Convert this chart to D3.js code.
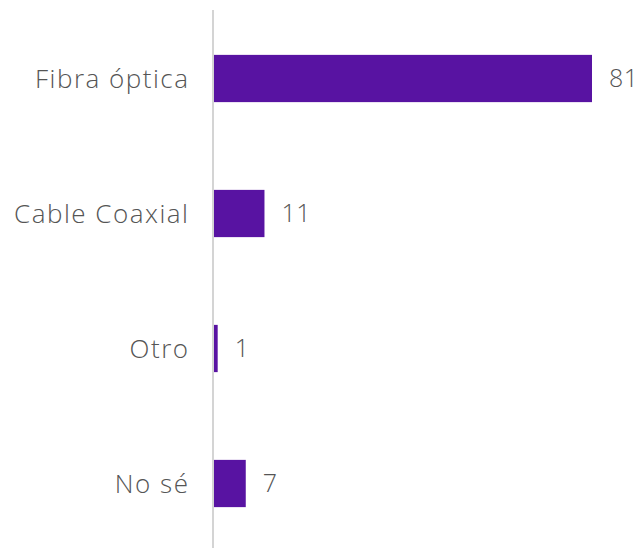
<!DOCTYPE html>
<html>
<head>
<meta charset="utf-8">
<script src="https://cdn.jsdelivr.net/npm/d3@7"></script>
<style>
	body { margin: 0; background: #fff; }
	text { font-family: 'Open Sans', sans-serif; fill: #555555; }
</style>
</head>
<body>
<div id="chart"></div>
<script>
// Data
const categories = ['Fibra óptica', 'Cable Coaxial', 'Otro', 'No sé'];
const values = [81, 11, 1, 7];

const width = 641;
const height = 548;
const axisX = 213;

const svg = d3
	.select('#chart')
	.append('svg')
	.attr('width', width)
	.attr('height', height);

// Scales
const x = d3.scaleLinear().domain([0, 81]).range([axisX, 592]);
const y = d3
	.scaleBand()
	.domain(categories)
	.range([11, 551])
	.paddingInner(0.65)
	.paddingOuter(0.325);

const data = categories.map((c, i) => ({ name: c, value: values[i] }));

// Bars
svg.append('g')
	.selectAll('rect')
	.data(data)
	.enter()
	.append('rect')
	.attr('x', x(0) + 1)
	.attr('y', (d) => y(d.name))
	.attr('width', (d) => x(d.value) - x(0) - 1)
	.attr('height', y.bandwidth())
	.attr('fill', '#5813a2');

// Vertical axis line
svg.append('line')
	.attr('x1', axisX)
	.attr('x2', axisX)
	.attr('y1', 10)
	.attr('y2', height)
	.attr('stroke', '#d4d4d4')
	.attr('stroke-width', 2);

// Category labels (wide letter spacing to mimic the original typeface)
svg.append('g')
	.selectAll('text')
	.data(data)
	.enter()
	.append('text')
	.attr('x', axisX - 23.5)
	.attr('y', (d) => y(d.name) + y.bandwidth() / 2)
	.attr('dy', '0.35em')
	.attr('text-anchor', 'end')
	.style('font-size', '26px')
	.style('font-weight', 300)
	.style('letter-spacing', '1.5px')
	.text((d) => d.name);

// Value labels
svg.append('g')
	.selectAll('text')
	.data(data)
	.enter()
	.append('text')
	.attr('x', (d) => x(d.value) + 17)
	.attr('y', (d) => y(d.name) + y.bandwidth() / 2)
	.attr('dy', '0.35em')
	.style('font-size', '25px')
	.style('font-weight', 300)
	.style('letter-spacing', '0.5px')
	.text((d) => d.value);
</script>
</body>
</html>
